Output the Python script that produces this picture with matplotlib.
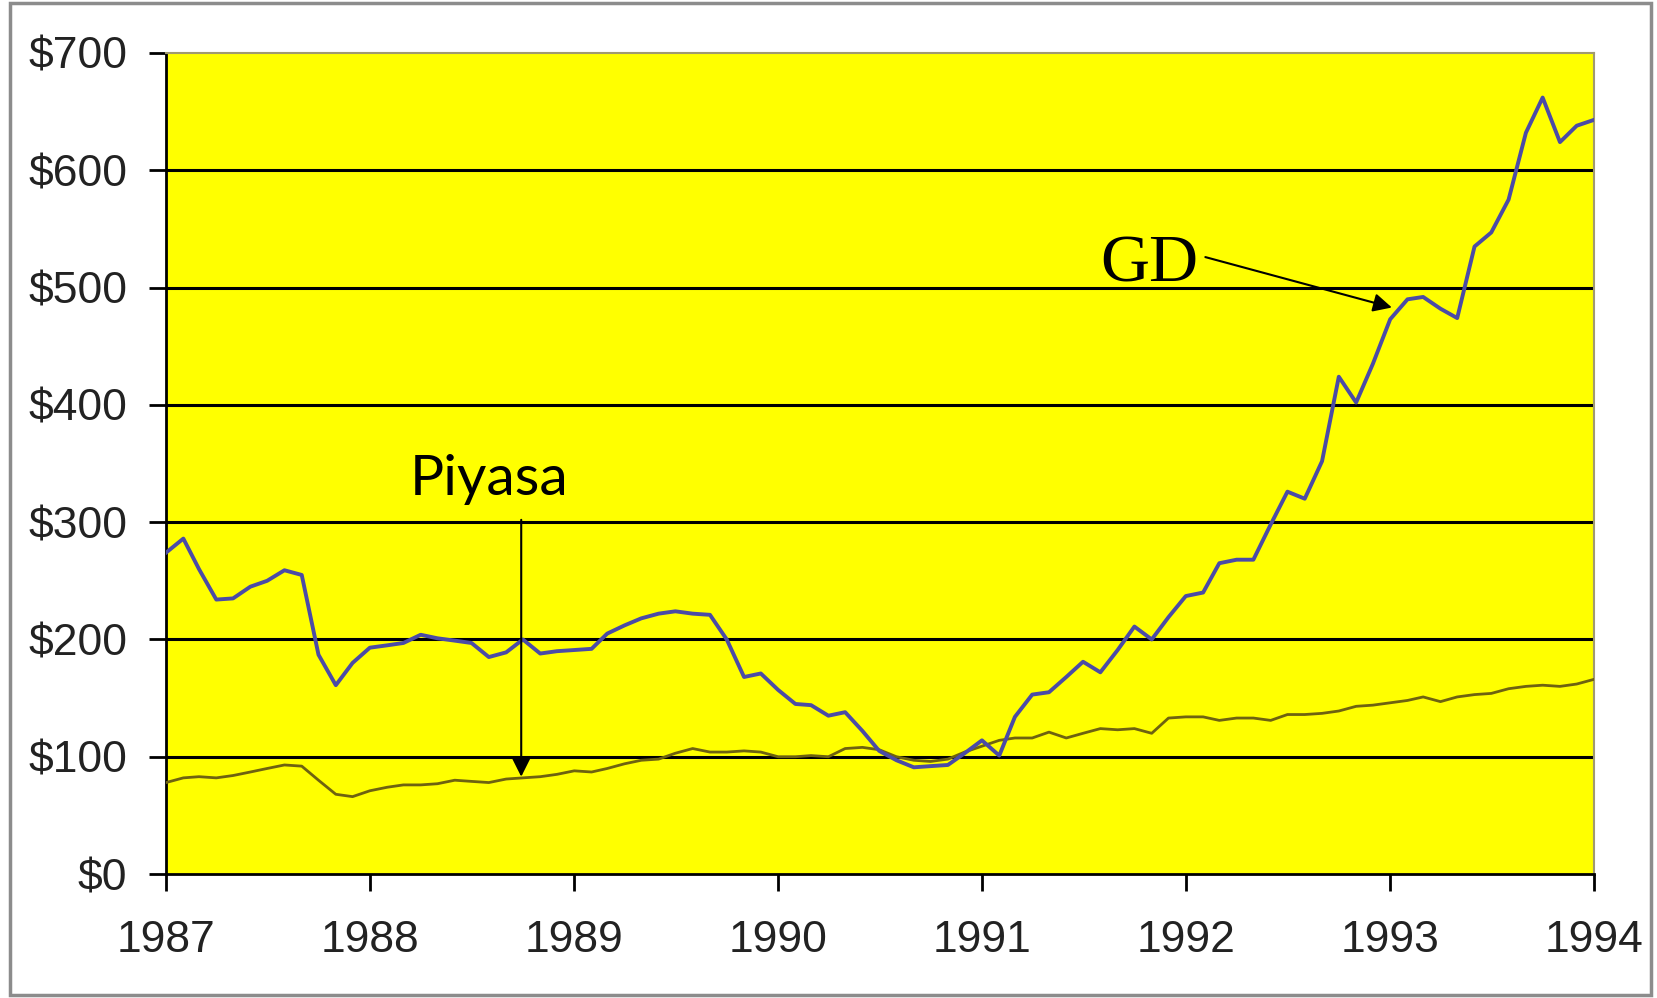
import matplotlib
matplotlib.use("Agg")
import matplotlib.pyplot as plt
import matplotlib.dates as mdates
from matplotlib.patches import Rectangle
from matplotlib.ticker import FuncFormatter
import pandas as pd

# monthly values, Jan 1987 .. Jan 1994
gd = [274, 286, 260, 234, 235, 245, 250, 259, 255, 187, 161, 180,
      193, 195, 197, 204, 201, 199, 197, 185, 189, 200, 188, 190,
      191, 192, 205, 212, 218, 222, 224, 222, 221, 200, 168, 171,
      157, 145, 144, 135, 138, 122, 105, 97, 91, 92, 93, 103,
      114, 101, 134, 153, 155, 168, 181, 172, 191, 211, 200, 219,
      237, 240, 265, 268, 268, 298, 326, 320, 352, 424, 402, 435,
      473, 490, 492, 482, 474, 535, 547, 575, 632, 662, 624, 638,
      643]
piyasa = [78, 82, 83, 82, 84, 87, 90, 93, 92, 80, 68, 66,
          71, 74, 76, 76, 77, 80, 79, 78, 81, 82, 83, 85,
          88, 87, 90, 94, 97, 98, 103, 107, 104, 104, 105, 104,
          100, 100, 101, 100, 107, 108, 106, 100, 97, 96, 98, 104,
          109, 114, 116, 116, 121, 116, 120, 124, 123, 124, 120, 133,
          134, 134, 131, 133, 133, 131, 136, 136, 137, 139, 143, 144,
          146, 148, 151, 147, 151, 153, 154, 158, 160, 161, 160, 162,
          166]
months = pd.date_range("1987-01-01", periods=len(gd), freq="MS")

fig = plt.figure(figsize=(16.57, 9.98), dpi=100)
ax = fig.add_axes([0.1002, 0.1242, 0.8618, 0.8227])
ax.set_facecolor("#ffff00")

ax.plot(months, piyasa, color="#6e6210", lw=2.0, zorder=3)
ax.plot(months, gd, color="#4b4ba6", lw=2.8, zorder=4)

ax.set_xlim(pd.Timestamp("1987-01-01"), pd.Timestamp("1994-01-01"))
ax.set_ylim(0, 700)
ax.set_yticks(range(0, 800, 100))
ax.yaxis.set_major_formatter(FuncFormatter(lambda v, p: f"${v:.0f}"))
ax.xaxis.set_major_locator(mdates.YearLocator())
ax.xaxis.set_major_formatter(mdates.DateFormatter("%Y"))

for v in range(100, 700, 100):
    ax.axhline(v, color="black", lw=2.2, zorder=2)

for s in ["left", "bottom"]:
    ax.spines[s].set_color("black")
    ax.spines[s].set_linewidth(2)
for s in ["top", "right"]:
    ax.spines[s].set_color("#a09a70")
    ax.spines[s].set_linewidth(1.5)

ax.tick_params(axis="both", labelsize=32, labelcolor="#222222", length=12,
               width=2, color="black")
ax.tick_params(axis="y", pad=16)
ax.tick_params(axis="x", pad=21)
for lab in ax.get_xticklabels() + ax.get_yticklabels():
    lab.set_family(["Liberation Sans", "DejaVu Sans"])

# annotations
ax.annotate("", xy=(pd.Timestamp("1988-09-28"), 83),
            xytext=(pd.Timestamp("1988-09-28"), 302),
            arrowprops=dict(arrowstyle="-|>", color="black", lw=1.5,
                            mutation_scale=28, shrinkA=0, shrinkB=0), zorder=5)
ax.text(pd.Timestamp("1988-08-02"), 323, "Piyasa", fontsize=41,
        family=["Lato", "DejaVu Sans"], ha="center", va="baseline", zorder=5)

ax.annotate("", xy=(pd.Timestamp("1993-01-04"), 483),
            xytext=(pd.Timestamp("1992-02-05"), 526),
            arrowprops=dict(arrowstyle="-|>", color="black", lw=1.5,
                            mutation_scale=28, shrinkA=0, shrinkB=0), zorder=5)
ax.text(pd.Timestamp("1991-08-01"), 505, "GD", fontsize=49,
        family=["Liberation Serif", "DejaVu Serif"], ha="left", va="baseline",
        zorder=5)

# outer chart frame
fig.patches.append(Rectangle((10 / 1657, 3 / 998), 1641 / 1657, 992 / 998,
                             transform=fig.transFigure, fill=False,
                             edgecolor="#8c8c8c", lw=2.5))

fig.savefig("out.png", dpi=100)
